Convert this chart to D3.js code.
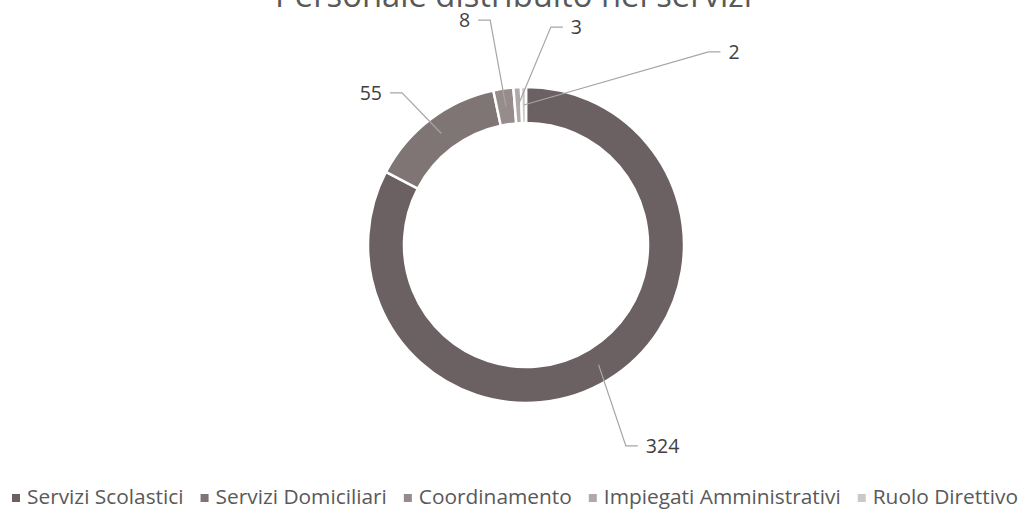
<!DOCTYPE html>
<html>
<head>
<meta charset="utf-8">
<script src="https://cdn.jsdelivr.net/npm/d3@7"></script>
<style>
  body { margin: 0; background: #fff; }
  text { font-family: "Open Sans", "Liberation Sans", sans-serif; }
</style>
</head>
<body>
<div id="my_dataviz"></div>
<script>
// data
var categories = ["Servizi Scolastici", "Servizi Domiciliari", "Coordinamento", "Impiegati Amministrativi", "Ruolo Direttivo"];
var values = [324, 55, 8, 3, 2];
var colors = ["#6b6162", "#807575", "#968c8c", "#b1a9a9", "#cdc7c7"];
var title = "Personale distribuito nei servizi";

// label placement (angle in degrees clockwise from top, radius from center)
var labelAngle = [150.9, 318.2, 348, 9.6, 45.2];
var labelRadius = [230, 204, 230, 221, 274];

var width = 1027, height = 511;
var cx = 526, cy = 245, outerR = 158, innerR = 122;

var svg = d3.select("#my_dataviz")
    .append("svg")
    .attr("width", width)
    .attr("height", height);

// title, fitted to its width in the picture
var t = svg.append("text")
    .attr("x", 513.5)
    .attr("y", 7)
    .attr("text-anchor", "middle")
    .attr("fill", "#595959")
    .style("font-size", "24px")
    .text(title);
var tw = t.node().getComputedTextLength();
t.style("font-size", (24 * 477 / tw) + "px");

var g = svg.append("g")
    .attr("transform", "translate(" + cx + "," + cy + ")");

var pie = d3.pie().sort(null).value(function(d) { return d; });
var arcs = pie(values);

var arc = d3.arc().innerRadius(innerR).outerRadius(outerR);
var mid = d3.arc().innerRadius(140).outerRadius(140);

// slices
g.selectAll("path.slice")
    .data(arcs)
    .enter()
    .append("path")
    .attr("class", "slice")
    .attr("d", arc)
    .attr("fill", function(d, i) { return colors[i]; })
    .attr("stroke", "#fff")
    .attr("stroke-width", 2.5);

// leader lines and labels
arcs.forEach(function(d, i) {
    var c = mid.centroid(d);
    var a = labelAngle[i] * Math.PI / 180;
    var ex = labelRadius[i] * Math.sin(a), ey = -labelRadius[i] * Math.cos(a);
    var dir = c[0] > ex ? 1 : -1;
    var elbowX = ex + 12 * dir;
    g.append("polyline")
        .attr("points", [c, [elbowX, ey], [ex, ey]].map(function(p) { return p.join(","); }).join(" "))
        .attr("fill", "none")
        .attr("stroke", "#a6a6a6")
        .attr("stroke-width", 1.2);
    g.append("text")
        .attr("x", ex - 8 * dir)
        .attr("y", ey)
        .attr("dy", "0.36em")
        .attr("text-anchor", dir > 0 ? "end" : "start")
        .attr("fill", "#404040")
        .style("font-size", "19.5px")
        .text(values[i]);
});

// legend, fitted to the width it takes in the picture
var legend = svg.append("g");
var fs = 16, mark = 15, gap = 17;
var items = legend.selectAll("g.item")
    .data(categories)
    .enter()
    .append("g")
    .attr("class", "item");
items.append("rect")
    .attr("width", 8)
    .attr("height", 8)
    .attr("y", -10)
    .attr("fill", function(d, i) { return colors[i]; });
items.append("text")
    .attr("x", mark)
    .attr("fill", "#595959")
    .style("font-size", fs + "px")
    .text(function(d) { return d; });

function layoutLegend() {
    var x = 0, pos = [];
    items.each(function() {
        var w = d3.select(this).select("text").node().getComputedTextLength();
        pos.push(x);
        x += mark + w + gap;
    });
    return { pos: pos, total: x - gap };
}
var fixed = categories.length * mark + (categories.length - 1) * gap;
var lay = layoutLegend();
fs = fs * (1006 - fixed) / (lay.total - fixed);
items.select("text").style("font-size", fs + "px");
lay = layoutLegend();
items.attr("transform", function(d, i) { return "translate(" + (12 + lay.pos[i]) + ",504)"; });
</script>
</body>
</html>
